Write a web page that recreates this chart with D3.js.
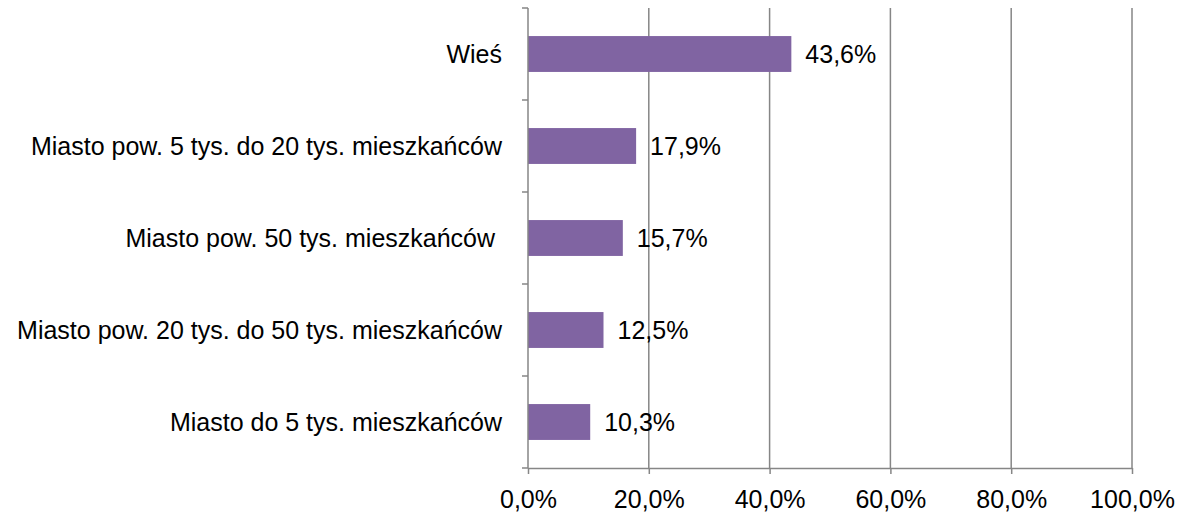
<!doctype html>
<html>
<head>
<meta charset="utf-8" />
<script src="https://d3js.org/d3.v7.min.js"></script>
<style>
  body { margin: 0; background: #fff; }
  text { font-family: "Liberation Sans", Arial, sans-serif; fill: #000; }
</style>
</head>
<body>
<div id="chart"></div>
<script type="text/javascript">

var categories = ["Wieś", "Miasto pow. 5 tys. do 20 tys. mieszkańców", "Miasto pow. 50 tys. mieszkańców ", "Miasto pow. 20 tys. do 50 tys. mieszkańców", "Miasto do 5 tys. mieszkańców"];
var values = [43.6, 17.9, 15.7, 12.5, 10.3];
var xTicks = [0, 20, 40, 60, 80, 100];

var width = 1180, height = 514;
var margin = {top: 8, right: 48, bottom: 46, left: 528};
var gridColor = "#868686";
var fontSize = "25px";
var fmt = d => d.toFixed(1).replace(".", ",") + "%";

var svg = d3.select("#chart").append("svg")
  .attr("width", width).attr("height", height);

var x = d3.scaleLinear().domain([0, 100]).range([margin.left, width - margin.right]);
var y = d3.scaleBand().domain(categories).range([margin.top, height - margin.bottom]).paddingInner(0.61).paddingOuter(0.305);

// vertical gridlines
svg.append("g").selectAll("line").data(xTicks.slice(1)).enter().append("line")
  .attr("x1", d => x(d)).attr("x2", d => x(d))
  .attr("y1", margin.top).attr("y2", height - margin.bottom)
  .attr("stroke", gridColor).attr("stroke-width", 1.5);

// bars
svg.append("g").selectAll("rect").data(values).enter().append("rect")
  .attr("x", x(0))
  .attr("y", (d, i) => y(categories[i]))
  .attr("width", d => x(d) - x(0))
  .attr("height", y.bandwidth())
  .attr("fill", "#8064A2");

// value labels
svg.append("g").selectAll("text").data(values).enter().append("text")
  .attr("x", d => x(d) + 14)
  .attr("y", (d, i) => y(categories[i]) + y.bandwidth() / 2)
  .attr("dy", "0.35em")
  .style("font-size", fontSize)
  .text(d => fmt(d));

// x axis
var xAxis = svg.append("g").attr("transform", "translate(0," + (height - margin.bottom) + ")")
  .call(d3.axisBottom(x).tickValues(xTicks).tickFormat(fmt).tickSize(6).tickSizeOuter(0).tickPadding(16));
xAxis.select(".domain").attr("stroke", gridColor).attr("stroke-width", 1.5);
xAxis.selectAll(".tick line").attr("stroke", gridColor).attr("stroke-width", 1.5);
xAxis.selectAll("text").style("font-size", fontSize).attr("fill", "#000")
  .style("font-family", "'Liberation Sans', Arial, sans-serif");

// y axis (ticks between categories)
var yEdges = d3.range(categories.length + 1).map(i => margin.top + i * y.step());
var yg = svg.append("g");
yg.append("line").attr("x1", x(0)).attr("x2", x(0))
  .attr("y1", margin.top).attr("y2", height - margin.bottom)
  .attr("stroke", gridColor).attr("stroke-width", 1.5);
yg.selectAll(".edge").data(yEdges).enter().append("line")
  .attr("x1", x(0) - 6).attr("x2", x(0))
  .attr("y1", d => d).attr("y2", d => d)
  .attr("stroke", gridColor).attr("stroke-width", 1.5);
yg.selectAll("text").data(categories).enter().append("text")
  .attr("x", x(0) - 26)
  .attr("y", d => y(d) + y.bandwidth() / 2)
  .attr("dy", "0.35em")
  .attr("text-anchor", "end")
  .style("font-size", fontSize)
  .style("white-space", "pre")
  .text(d => d);

</script>
</body>
</html>
